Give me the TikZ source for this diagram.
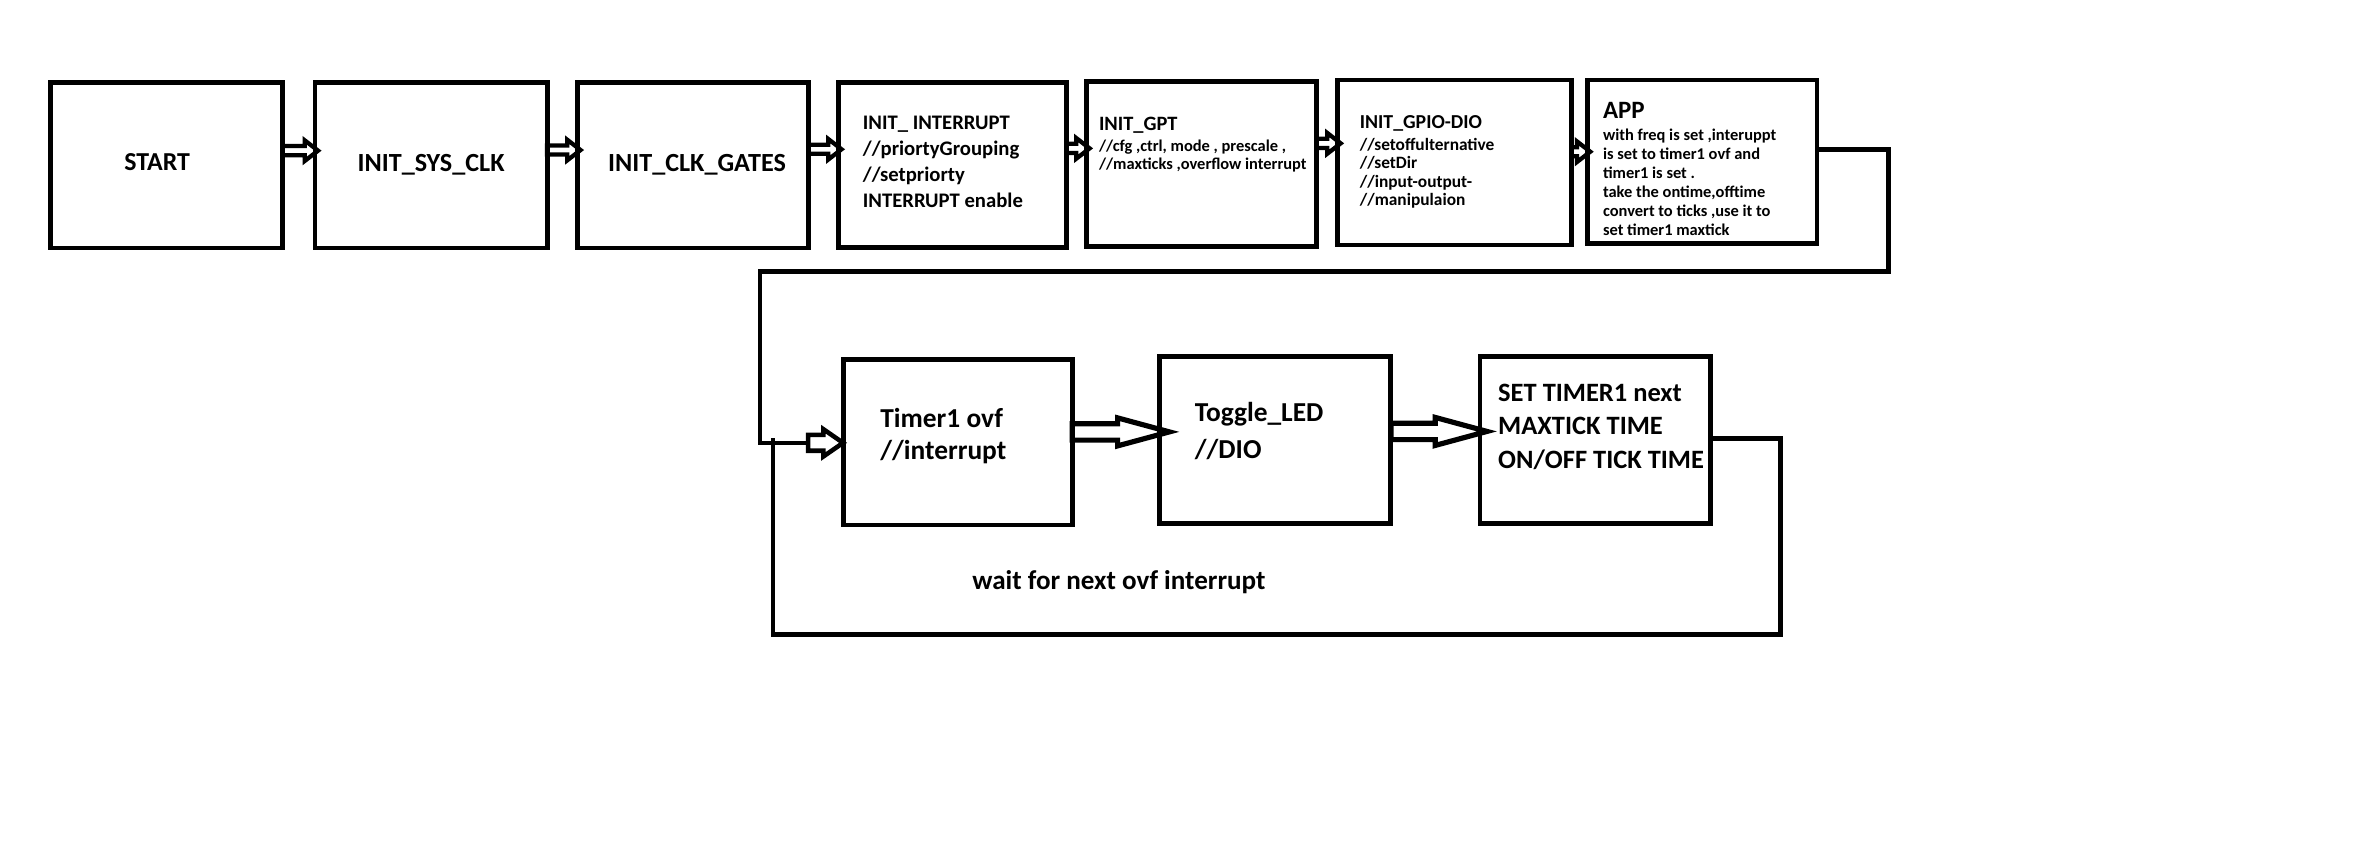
\documentclass[tikz,border=0pt]{standalone}
\usepackage{fontspec}
\setmainfont{Carlito}
\usetikzlibrary{calc}
\pgfdeclarelayer{background}
\pgfsetlayers{background,main}
\newcommand\fsz[2]{\fontsize{#1}{#2}\selectfont\bfseries}
\newcommand\ml[1]{\begin{tabular}[t]{@{}l@{}}#1\end{tabular}}
% #1 style, #2 from anchor, #3 to anchor, #4 y, #5 shaft half, #6 head half, #7 head length, #8 tip overshoot
\newcommand\blockarrow[8]{%
  \draw[#1] let \p1=(#2), \p2=(#3), \p3=(0,#4) in
    (\x1,\y3+#5) -- (\x2+#8-#7,\y3+#5) -- (\x2+#8-#7,\y3+#6) -- (\x2+#8,\y3)
    -- (\x2+#8-#7,\y3-#6) -- (\x2+#8-#7,\y3-#5) -- (\x1,\y3-#5) -- cycle;}
\tikzset{
  box/.style={draw, line width=1.6pt, inner sep=0pt, outer sep=0pt},
  txt/.style={inner sep=0pt, outer sep=0pt, anchor=base west},
  ctxt/.style={inner sep=0pt, outer sep=0pt, anchor=base},
  conn/.style={line width=1.5pt, line join=miter, line cap=rect},
  sarrow/.style={draw, fill=white, line width=1.4pt, line join=miter},
  barrow/.style={draw, fill=white, line width=1.7pt, line join=miter},
  earrow/.style={draw, fill=white, line width=1.5pt, line join=miter},
}
\begin{document}
\begin{tikzpicture}[x=0.5pt, y=-0.5pt]
\begin{pgfonlayer}{background}
  \fill[white] (0,0) rectangle (1560,566.4);
\end{pgfonlayer}
\useasboundingbox (0,0) rectangle (1560,566.4);

% top row boxes
\node[box, minimum width=76.25pt, minimum height=54.5pt] (start) at (109.25,108.5) {};
\node[box, minimum width=76.25pt, minimum height=54.5pt] (sys) at (283.25,108.5) {};
\node[box, minimum width=76pt, minimum height=54.5pt] (gates) at (455.5,108.5) {};
\node[box, minimum width=75pt, minimum height=54pt] (int) at (626,108.4) {};
\node[box, minimum width=75.5pt, minimum height=54.15pt] (gpt) at (789.5,107.9) {};
\node[box, minimum width=76.75pt, minimum height=54.2pt] (gpio) at (955.75,106.8) {};
\node[box, minimum width=75.5pt, minimum height=53.7pt] (app) at (1118.5,106.3) {};

% bottom row boxes
\node[box, minimum width=75.25pt, minimum height=54.5pt] (timer) at (629.25,290.5) {};
\node[box, minimum width=76pt, minimum height=54.75pt] (toggle) at (838,289.25) {};
\node[box, minimum width=75.75pt, minimum height=54.75pt] (set) at (1048.25,289.25) {};

% texts
\node[ctxt, font=\fsz{8.5}{10}] (startT) at (103.3,112) {START};
\node[ctxt, font=\fsz{8.6}{10}] (sysT) at (283.25,112.5) {INIT\_SYS\_CLK};
\node[ctxt, font=\fsz{8.6}{10}] (gatesT) at (458,113) {INIT\_CLK\_GATES};
\node[txt, font=\fsz{6.8}{8.5}] (intT) at (567,85.4) {\ml{INIT\_ INTERRUPT\\//priortyGrouping\\//setpriorty\\INTERRUPT enable}};
\node[txt, font=\fsz{6.7}{8}] (gptT) at (722.2,86) {INIT\_GPT};
\node[txt, font=\fsz{5.4}{6}] (gptS) at (722.2,99.7) {\ml{//cfg ,ctrl, mode , prescale ,\\//maxticks ,overflow interrupt}};
\node[txt, font=\fsz{6.5}{8}] (gpioT) at (893.6,84.3) {INIT\_GPIO-DIO};
\node[txt, font=\fsz{5.7}{6.1}] (gpioS) at (893.6,98.6) {\ml{//setoffulternative\\//setDir\\//input-output-\\//manipulaion}};
\node[txt, font=\fsz{8.2}{10}] (appT) at (1053.4,77.7) {APP};
\node[txt, font=\fsz{5.4}{6.23}] (appS) at (1053.4,92.6) {\ml{with freq is set ,interuppt\\is set to timer1 ovf and\\timer1 is set .\\take the ontime,offtime\\convert to ticks ,use it to\\set timer1 maxtick}};
\node[txt, font=\fsz{9}{10.6}] (timerT) at (578.5,281) {\ml{Timer1 ovf\\//interrupt}};
\node[txt, font=\fsz{9}{12.3}] (toggleT) at (785.2,277) {\ml{Toggle\_LED\\//DIO}};
\node[txt, font=\fsz{8.7}{10.95}] (setT) at (984.5,263.9) {\ml{SET TIMER1 next\\MAXTICK TIME\\ON/OFF TICK TIME}};
\node[txt, font=\fsz{8.9}{10}] (wait) at (639,387.3) {wait for next ovf interrupt};

% connectors
\coordinate (entry) at (531,291);
\coordinate (tr) at (1241,178.5);
\coordinate (tl) at (499.4,291);
\coordinate (br) at (1170,417);
\coordinate (bl) at (508,289);

\begin{pgfonlayer}{background}
  \draw[conn] (app.east |- 0,98.1) -| (tr) -| (tl) -- (entry);
  \draw[conn] (set.east |- 0,288) -| (br) -| (bl);
  \blockarrow{sarrow}{start.east}{sys.west}{99}{1.5pt}{3.4pt}{4.4pt}{1pt}
  \blockarrow{sarrow}{sys.east}{gates.west}{98.6}{1.5pt}{3.4pt}{4.4pt}{1pt}
  \blockarrow{sarrow}{gates.east}{int.west}{98.1}{1.5pt}{3.4pt}{4.4pt}{1pt}
  \blockarrow{sarrow}{int.east}{gpt.west}{97.5}{1.5pt}{3.4pt}{4.4pt}{1pt}
  \blockarrow{sarrow}{gpt.east}{gpio.west}{94.2}{1.5pt}{3.4pt}{4.4pt}{1pt}
  \blockarrow{sarrow}{gpio.east}{app.west}{99.7}{1.5pt}{3.4pt}{4.4pt}{1pt}
  \blockarrow{barrow}{timer.east}{toggle.west}{283.8}{2.7pt}{4.6pt}{17pt}{3.2pt}
  \blockarrow{barrow}{toggle.east}{set.west}{283.5}{2.7pt}{4.6pt}{17pt}{2.3pt}
  \blockarrow{earrow}{entry}{timer.west}{291}{2.6pt}{4.5pt}{6.5pt}{0pt}
\end{pgfonlayer}
\end{tikzpicture}
\end{document}
